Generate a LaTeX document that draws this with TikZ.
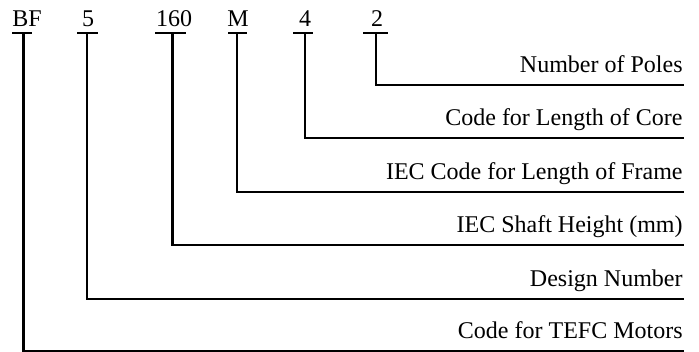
\documentclass[tikz,border=0pt]{standalone}
\usepackage{fontspec}
\setmainfont{Liberation Serif}
\begin{document}
\begin{tikzpicture}[x=0.5pt,y=-0.5pt,
  code/.style={anchor=base,inner sep=0pt,font=\fontsize{12}{14}\selectfont},
  desc/.style={anchor=base east,inner sep=0pt,font=\fontsize{12}{14}\selectfont},
  wire/.style={line width=1.05pt,line cap=butt},
  bar/.style={line width=1.1pt}]
\useasboundingbox (0,0) rectangle (699,352);
% top codes
\node[code] (cBF) at (27,27) {BF};
\node[code] (c5) at (88,27) {5};
\node[code] (c160) at (174,27) {160};
\node[code] (cM) at (238,27) {M};
\node[code] (c4) at (305,27) {4};
\node[code] (c2) at (377,27) {2};
% bars
\draw[bar] (12,33) -- (32,33);
\draw[bar] (77,33) -- (98,33);
\draw[bar] (155,33) -- (186,33);
\draw[bar] (228,33) -- (247,33);
\draw[bar] (293,33) -- (313,33);
\draw[bar] (363,33) -- (388,33);
% tops of verticals
\coordinate (tBF) at (23.5,33);
\coordinate (t5) at (87,33);
\coordinate (t160) at (172.5,33);
\coordinate (tM) at (237,33);
\coordinate (t4) at (305,33);
\coordinate (t2) at (376,33);
% right ends
\coordinate (e2) at (684,85);
\coordinate (e4) at (684,138.2);
\coordinate (eM) at (684,191.9);
\coordinate (e160) at (684,245.3);
\coordinate (e5) at (684,298.7);
\coordinate (eBF) at (684,350.8);
% descriptions
\node[desc] (d2) at (683,72.3) {Number of Poles};
\node[desc] (d4) at (683,125.5) {Code for Length of Core};
\node[desc] (dM) at (683,179.2) {IEC Code for Length of Frame};
\node[desc] (d160) at (683,232.6) {IEC Shaft Height (mm)};
\node[desc] (d5) at (683,286) {Design Number};
\node[desc] (dBF) at (683,338.3) {Code for TEFC Motors};
% connectors
\draw[wire] (t2) |- (e2);
\draw[wire] (t4) |- (e4);
\draw[wire] (tM) |- (eM);
\draw[wire] (t160) |- (e160);
\draw[wire] (t5) |- (e5);
\draw[wire] (tBF) |- (eBF);
\end{tikzpicture}
\end{document}
